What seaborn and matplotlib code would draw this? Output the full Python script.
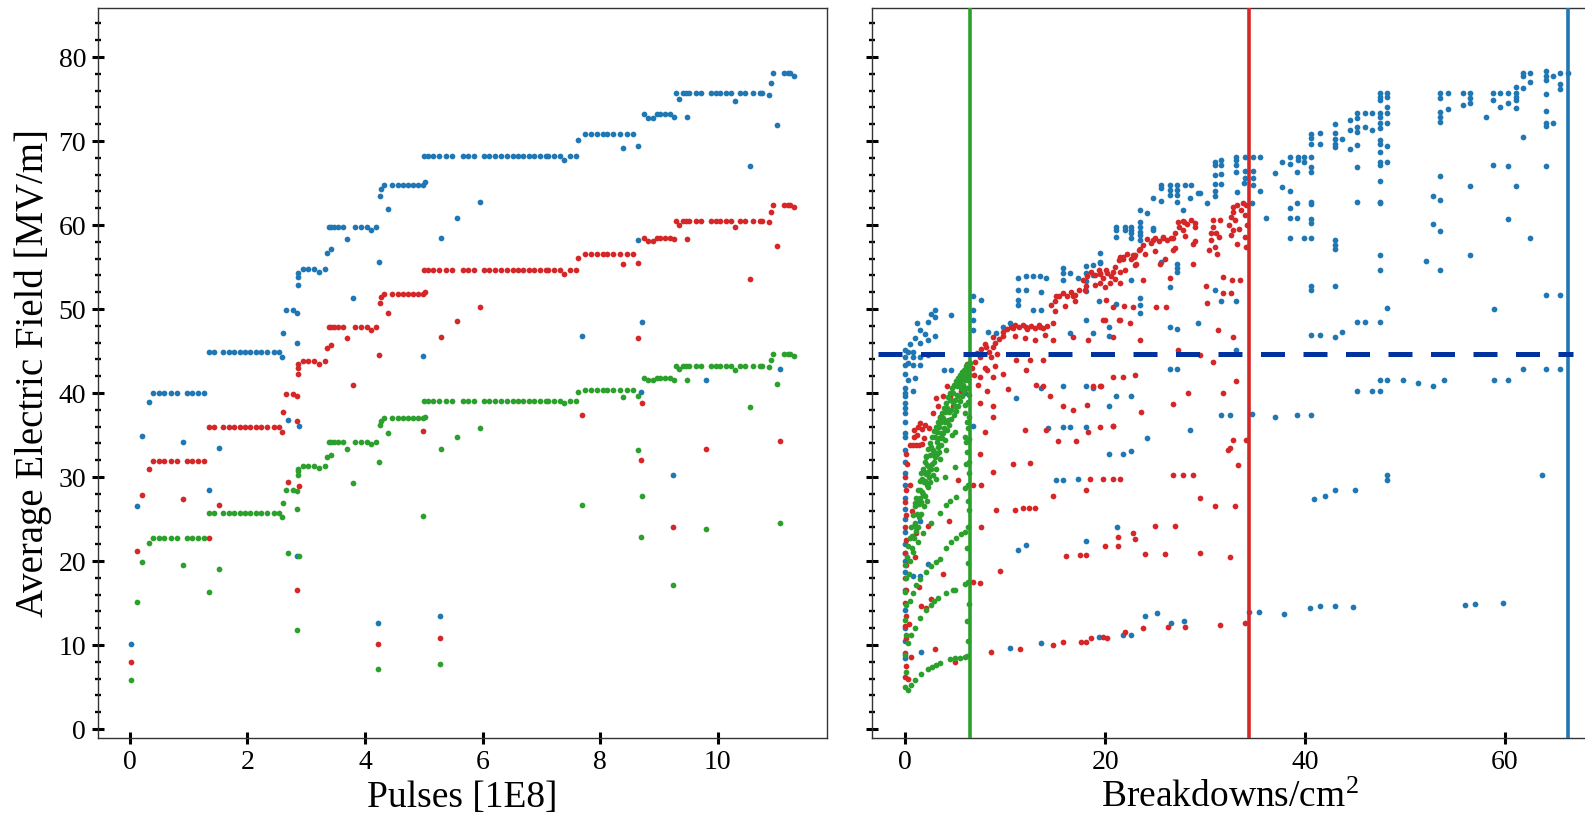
import matplotlib
matplotlib.use("Agg")
import matplotlib.pyplot as plt
import seaborn as sns
from matplotlib.ticker import MultipleLocator

# ---------------- data: left panel (field vs pulses) ----------------
pulses = [0.02, 0.13, 0.21, 0.32,
          0.40, 0.50, 0.58, 0.70, 0.81, 0.91, 0.97, 1.06, 1.16, 1.26,
          1.34, 1.35, 1.44, 1.52, 1.58, 1.68, 1.77, 1.87, 1.96,
          2.05, 2.15, 2.24, 2.34, 2.45, 2.54, 2.59, 2.60, 2.65, 2.70,
          2.78, 2.84, 2.84, 2.84, 2.87, 2.87, 2.87, 2.88, 2.94, 3.04,
          3.13, 3.22, 3.32, 3.36, 3.39, 3.42, 3.43, 3.48, 3.55, 3.63,
          3.69, 3.79, 3.83, 3.93, 4.03, 4.10, 4.19, 4.22, 4.24, 4.25,
          4.27, 4.32, 4.39, 4.46, 4.57, 4.65, 4.74, 4.82, 4.91, 4.99,
          4.99, 5.01, 5.02, 5.07, 5.16, 5.26, 5.27, 5.30, 5.38, 5.48,
          5.57, 5.66, 5.76, 5.86, 5.95, 6.03, 6.11, 6.22, 6.31, 6.42,
          6.51, 6.60, 6.68, 6.79, 6.87, 6.97, 7.08, 7.11, 7.22, 7.31,
          7.39, 7.48, 7.59, 7.63, 7.69, 7.74, 7.84, 7.95, 8.04, 8.12,
          8.22, 8.33, 8.38, 8.45, 8.55, 8.65, 8.65, 8.70, 8.71, 8.75,
          8.81, 8.89, 8.96, 9.01, 9.10, 9.19, 9.24, 9.26, 9.29, 9.34,
          9.41, 9.46, 9.47, 9.51, 9.63, 9.72, 9.80, 9.88, 9.97, 10.04,
          10.14, 10.22, 10.29, 10.37, 10.46, 10.54, 10.60, 10.71, 10.75, 10.87,
          10.90, 10.94, 11.01, 11.05, 11.13, 11.20, 11.22, 11.30]

field_blue = [10.1, 26.5, 34.9, 38.9,
              40.0, 40.0, 40.0, 40.0, 40.0, 34.2, 40.0, 40.0, 40.0, 40.0,
              28.5, 44.9, 44.9, 33.4, 44.9, 44.9, 44.9, 44.9, 44.9,
              44.9, 44.9, 44.9, 44.9, 44.9, 44.9, 44.3, 47.1, 49.9, 36.8,
              49.9, 49.5, 45.9, 20.6, 52.9, 53.8, 54.3, 36.1, 54.8, 54.8,
              54.8, 54.4, 54.8, 56.7, 59.8, 57.1, 59.8, 59.8, 59.8, 59.8,
              58.3, 51.3, 59.8, 59.8, 59.8, 59.4, 59.8, 12.6, 55.6, 63.4,
              64.3, 64.8, 61.9, 64.8, 64.8, 64.8, 64.8, 64.8, 64.8, 64.8,
              44.4, 68.2, 65.1, 68.2, 68.2, 68.2, 13.5, 58.4, 68.2, 68.2,
              60.8, 68.2, 68.2, 68.2, 62.7, 68.2, 68.2, 68.2, 68.2, 68.2,
              68.2, 68.2, 68.2, 68.2, 68.2, 68.2, 68.2, 68.2, 68.2, 68.2,
              67.8, 68.2, 68.2, 70.1, 46.8, 70.8, 70.8, 70.8, 70.8, 70.8,
              70.8, 70.8, 69.2, 70.8, 70.8, 69.4, 58.2, 40.1, 48.5, 73.2,
              72.7, 72.7, 73.2, 73.2, 73.2, 73.2, 30.2, 72.9, 75.7, 75.0,
              75.7, 75.7, 72.9, 75.7, 75.7, 75.7, 41.6, 75.7, 75.7, 75.7,
              75.7, 75.7, 74.8, 75.7, 75.7, 67.0, 75.7, 75.7, 75.7, 75.5,
              76.9, 78.1, 71.9, 42.9, 78.1, 78.1, 78.1, 77.8]

field_red = [8.0, 21.2, 27.9, 31.0,
             31.9, 31.9, 31.9, 31.9, 31.9, 27.4, 31.9, 31.9, 31.9, 31.9,
             22.8, 35.9, 35.9, 26.7, 35.9, 35.9, 35.9, 35.9, 35.9,
             35.9, 35.9, 35.9, 35.9, 35.9, 35.9, 35.4, 37.7, 39.9, 29.4,
             39.9, 39.6, 36.7, 16.5, 42.3, 43.0, 43.4, 28.9, 43.8, 43.8,
             43.8, 43.5, 43.8, 45.4, 47.9, 45.7, 47.9, 47.9, 47.9, 47.9,
             46.6, 41.0, 47.9, 47.9, 47.9, 47.5, 47.9, 10.1, 44.5, 50.7,
             51.4, 51.8, 49.5, 51.8, 51.8, 51.8, 51.8, 51.8, 51.8, 51.8,
             35.5, 54.6, 52.0, 54.6, 54.6, 54.6, 10.8, 46.7, 54.6, 54.6,
             48.6, 54.6, 54.6, 54.6, 50.2, 54.6, 54.6, 54.6, 54.6, 54.6,
             54.6, 54.6, 54.6, 54.6, 54.6, 54.6, 54.6, 54.6, 54.6, 54.6,
             54.2, 54.6, 54.6, 56.1, 37.4, 56.6, 56.6, 56.6, 56.6, 56.6,
             56.6, 56.6, 55.4, 56.6, 56.6, 55.5, 46.5, 32.0, 38.8, 58.5,
             58.1, 58.1, 58.5, 58.5, 58.5, 58.5, 24.1, 58.3, 60.5, 60.0,
             60.5, 60.5, 58.3, 60.5, 60.5, 60.5, 33.3, 60.5, 60.5, 60.5,
             60.5, 60.5, 59.8, 60.5, 60.5, 53.6, 60.5, 60.5, 60.5, 60.4,
             61.5, 62.4, 57.5, 34.3, 62.4, 62.4, 62.4, 62.2]

field_green = [5.8, 15.1, 19.9, 22.1,
               22.7, 22.7, 22.7, 22.7, 22.7, 19.5, 22.7, 22.7, 22.7, 22.7,
               16.3, 25.7, 25.7, 19.1, 25.7, 25.7, 25.7, 25.7, 25.7,
               25.7, 25.7, 25.7, 25.7, 25.7, 25.7, 25.3, 26.9, 28.5, 21.0,
               28.5, 28.3, 26.2, 11.8, 30.2, 30.7, 31.0, 20.6, 31.3, 31.3,
               31.3, 31.1, 31.3, 32.4, 34.2, 32.6, 34.2, 34.2, 34.2, 34.2,
               33.3, 29.3, 34.2, 34.2, 34.2, 33.9, 34.2, 7.2, 31.8, 36.2,
               36.7, 37.0, 35.3, 37.0, 37.0, 37.0, 37.0, 37.0, 37.0, 37.0,
               25.4, 39.0, 37.2, 39.0, 39.0, 39.0, 7.7, 33.3, 39.0, 39.0,
               34.8, 39.0, 39.0, 39.0, 35.8, 39.0, 39.0, 39.0, 39.0, 39.0,
               39.0, 39.0, 39.0, 39.0, 39.0, 39.0, 39.0, 39.0, 39.0, 39.0,
               38.8, 39.0, 39.0, 40.1, 26.7, 40.4, 40.4, 40.4, 40.4, 40.4,
               40.4, 40.4, 39.5, 40.4, 40.4, 39.6, 33.2, 22.9, 27.7, 41.8,
               41.5, 41.5, 41.8, 41.8, 41.8, 41.8, 17.2, 41.6, 43.2, 42.9,
               43.2, 43.2, 41.6, 43.2, 43.2, 43.2, 23.8, 43.2, 43.2, 43.2,
               43.2, 43.2, 42.7, 43.2, 43.2, 38.3, 43.2, 43.2, 43.2, 43.1,
               43.9, 44.6, 41.1, 24.5, 44.6, 44.6, 44.6, 44.4]

# ---------------- data: right panel (field vs breakdowns/cm^2) ----------------
green_bd = [
    (0.0, 5.0), (0.1, 6.8), (0.0, 8.8), (0.1, 11.2), (0.0, 13.0), (0.1, 14.8), (0.0, 16.3), (0.1, 18.0), (0.0, 19.5),
    (0.2, 20.5), (0.3, 21.8), (0.5, 22.8), (0.6, 24.0), (0.8, 25.5), (1.0, 26.5), (1.1, 27.5), (1.3, 28.5),
    (1.5, 29.5), (1.6, 30.5), (1.8, 31.0), (2.0, 31.8), (2.1, 32.5), (2.3, 33.3), (2.5, 34.0), (2.7, 34.8),
    (2.9, 35.5), (3.1, 36.0), (3.3, 36.5), (3.5, 37.0), (3.7, 37.6), (3.9, 38.2), (4.1, 38.8), (4.3, 39.5),
    (4.5, 40.0), (4.7, 40.6), (4.9, 41.0), (5.1, 41.4), (5.3, 41.8), (5.5, 42.2), (5.7, 42.5), (5.9, 42.8),
    (6.1, 43.2), (6.3, 43.4), (6.5, 43.6),
    (1.0, 24.5), (1.4, 26.8), (1.7, 28.2), (2.0, 29.5), (2.4, 31.2), (2.8, 32.8), (3.2, 34.2), (3.6, 35.3),
    (4.0, 36.5), (4.4, 37.8), (4.8, 38.9), (5.2, 39.8), (5.6, 40.6), (6.0, 41.5), (6.4, 42.2),
    (0.4, 18.5), (0.5, 20.0), (0.7, 21.5), (0.9, 22.8), (1.1, 23.6), (1.2, 25.6), (1.4, 25.2), (1.6, 27.0),
    (1.8, 28.0), (1.9, 29.4), (2.1, 30.4), (2.2, 29.0), (2.4, 30.0), (2.5, 32.6), (2.6, 33.6), (2.7, 31.5),
    (2.9, 33.0), (3.0, 34.8), (3.2, 35.4), (3.3, 33.6), (3.4, 36.0), (3.6, 36.6), (3.7, 34.6), (3.8, 37.0),
    (3.9, 35.8), (4.0, 37.8), (4.2, 38.2), (4.3, 36.8), (4.5, 39.2), (4.6, 38.0), (4.8, 40.0), (5.0, 39.2),
    (5.2, 40.8), (5.3, 39.6), (5.4, 41.2), (5.6, 41.6), (5.8, 41.0), (5.8, 42.2), (6.0, 42.0), (6.2, 42.6),
    (6.3, 41.6), (6.4, 43.0), (6.2, 40.6), (6.4, 39.8),
    (1.2, 27.0), (1.5, 28.4), (1.7, 29.8), (1.9, 30.6), (2.0, 27.8), (2.2, 31.4), (2.3, 30.6), (2.5, 29.4),
    (2.6, 31.0), (2.8, 30.2), (2.9, 31.8), (3.0, 32.4), (3.1, 31.0), (3.2, 32.8), (3.4, 34.6), (3.5, 32.2),
    (3.6, 33.8), (3.8, 35.2), (4.0, 34.4), (4.2, 35.6), (4.4, 36.2), (4.6, 36.9), (4.7, 35.0), (4.9, 37.4),
    (5.1, 37.9), (5.3, 38.4), (5.5, 39.0), (5.7, 39.6), (5.9, 40.2), (0.7, 23.0), (0.9, 24.2), (1.3, 24.0),
    (1.6, 25.6), (1.9, 26.6), (2.2, 27.2),
    (6.3, 10.5), (6.2, 12.8), (6.4, 14.9), (6.3, 19.8), (6.2, 21.6), (6.4, 26.1), (6.3, 27.2), (6.4, 30.5),
    (6.2, 33.0), (6.3, 35.8), (6.4, 37.2), (6.3, 38.9),
    (0.3, 4.6), (0.6, 5.2), (1.0, 5.8), (1.6, 6.6), (2.3, 7.2), (2.7, 7.4), (3.1, 7.6), (3.5, 7.8), (4.5, 8.3),
    (5.0, 8.5), (5.5, 8.5), (6.0, 8.6), (6.2, 8.7),
    (0.3, 10.2), (0.6, 11.2), (1.0, 12.0), (1.5, 13.2), (2.1, 14.2), (2.6, 14.8), (2.9, 15.2), (3.3, 15.6),
    (4.1, 16.2), (4.8, 16.5), (5.0, 16.6), (6.0, 17.3), (6.3, 17.5),
    (0.5, 15.2), (0.8, 16.2), (1.1, 17.1), (1.5, 17.9), (2.1, 18.7), (2.6, 19.4), (3.1, 19.9), (3.5, 20.3),
    (4.1, 21.5), (4.6, 22.3), (5.1, 22.8), (5.6, 23.2), (6.0, 23.5), (6.3, 24.1),
    (0.8, 21.1), (1.3, 22.3), (1.8, 23.3), (2.6, 24.5), (3.5, 25.7), (4.1, 26.7), (4.5, 27.2), (5.1, 27.6),
    (6.0, 28.7), (6.3, 29.0),
    (1.0, 26.9), (1.5, 27.5), (2.3, 28.8), (3.1, 29.8), (4.0, 30.0), (5.0, 31.2), (6.1, 31.6), (6.4, 31.8),
    (2.1, 32.4), (2.8, 33.2), (3.4, 33.0), (4.1, 33.2), (5.0, 35.4), (6.0, 34.8), (6.1, 34.2), (6.4, 34.5),
    (5.0, 38.4), (6.0, 38.6), (6.0, 37.6), (6.2, 36.5),
]

red_bd = [
    (0.0, 6.2), (0.1, 7.5), (0.0, 9.0), (0.1, 10.8), (0.0, 12.3), (0.1, 13.5), (0.0, 15.0), (0.1, 16.5),
    (0.0, 18.0), (0.1, 19.5), (0.0, 21.0), (0.1, 22.5), (0.0, 24.0), (0.1, 25.5), (0.0, 27.0), (0.1, 28.5),
    (0.0, 30.0), (0.2, 31.5), (0.1, 32.8), (0.3, 5.9),
    (0.5, 33.8), (0.8, 33.8), (1.1, 33.8), (1.4, 33.8), (0.9, 35.6), (1.3, 36.0), (1.7, 35.7), (2.0, 36.2),
    (3.1, 39.4), (3.5, 37.2), (4.8, 38.4), (1.6, 14.6), (2.1, 14.4), (2.3, 24.2), (1.1, 23.3), (5.0, 8.0),
    (0.9, 34.8), (1.2, 35.0), (1.5, 36.4), (1.9, 34.6), (2.4, 35.8), (1.7, 33.9), (2.8, 37.6), (3.3, 38.5),
    (3.8, 39.7), (4.2, 40.8), (4.5, 39.5), (5.6, 40.2), (5.8, 42.0), (0.5, 29.0), (0.7, 26.0), (1.0, 20.5),
    (1.4, 16.9), (2.6, 15.5), (0.4, 12.5), (0.6, 8.6), (3.0, 9.5), (3.8, 18.4), (4.4, 24.8), (5.3, 29.6),
    (6.2, 43.5), (6.7, 43.0), (7.0, 43.7), (7.5, 44.3), (8.0, 43.0), (8.2, 42.7), (7.5, 41.9),
    (7.2, 44.8), (7.6, 45.2), (8.0, 45.8), (8.4, 44.9), (8.8, 45.5), (9.2, 44.6), (6.9, 42.2), (7.3, 41.0),
    (8.2, 40.2), (9.0, 43.2),
    (8.1, 45.5), (8.6, 44.3), (8.8, 46.7), (9.8, 47.3), (10.8, 47.7), (12.1, 47.9), (13.5, 47.9), (14.8, 48.3),
    (15.1, 51.5), (16.8, 51.5), (18.1, 52.7), (19.5, 54.3), (20.8, 54.4), (21.8, 56.2), (22.8, 56.4),
    (9.0, 46.0), (9.4, 46.4), (9.8, 46.8), (10.2, 47.6), (10.6, 47.9), (11.0, 48.1), (11.4, 47.9), (11.8, 48.1),
    (12.2, 47.6), (12.6, 48.0), (13.0, 47.8), (13.4, 48.1), (13.8, 47.7), (14.2, 48.0), (14.6, 50.5),
    (15.0, 50.9), (15.4, 51.6), (15.8, 51.9), (16.2, 51.5), (16.6, 52.0), (17.0, 51.7), (17.4, 52.3),
    (17.8, 53.5), (18.2, 53.9), (18.6, 54.4), (19.0, 54.0), (19.4, 54.6), (19.8, 53.7), (20.2, 54.3),
    (20.6, 53.9), (21.0, 55.0), (21.4, 55.8), (21.8, 56.0), (22.2, 56.6), (22.6, 55.9), (23.0, 56.4),
    (23.4, 57.0), (23.8, 57.6), (24.2, 58.3), (24.6, 57.9), (25.0, 58.5), (25.4, 58.1), (25.8, 58.6),
    (26.2, 58.2), (26.6, 58.5), (27.0, 59.0), (27.4, 59.8), (27.8, 60.5), (28.2, 60.1), (28.6, 60.6),
    (29.0, 59.8), (30.6, 58.2), (30.6, 59.0), (30.8, 59.8), (31.0, 57.4), (31.2, 56.6), (31.4, 58.6),
    (30.4, 57.0), (32.4, 60.0), (32.6, 61.0), (32.8, 61.6), (33.0, 60.6), (33.4, 59.5), (33.6, 61.8),
    (33.8, 62.6), (34.0, 61.2), (34.2, 60.0), (32.6, 58.8), (34.0, 58.6), (33.2, 57.8),
    (15.0, 49.8), (16.0, 50.4), (17.0, 50.9), (18.0, 52.3), (19.0, 52.9), (20.0, 52.6), (21.0, 53.6),
    (22.0, 54.6), (23.0, 55.3), (24.0, 56.5), (25.0, 56.9), (26.0, 56.0), (27.0, 57.3), (28.0, 58.7),
    (29.0, 58.1), (11.0, 46.8), (12.0, 46.5), (13.0, 46.3), (14.0, 46.9),
    (8.8, 41.9), (9.8, 42.3), (11.1, 43.9), (12.5, 43.9), (13.8, 43.9), (14.8, 46.3), (16.8, 46.7), (18.3, 46.3),
    (19.8, 48.7), (21.4, 48.7),
    (10.3, 40.5), (12.1, 42.7), (13.1, 41.0), (13.8, 40.8), (14.5, 39.6), (15.8, 38.4), (16.8, 38.0),
    (18.2, 38.6), (18.8, 40.8), (19.5, 40.8), (20.8, 41.9),
    (7.5, 38.8), (8.8, 38.4), (8.8, 37.2),
    (8.0, 35.4), (12.0, 35.6), (14.1, 35.6), (15.3, 34.3), (17.1, 34.3), (18.3, 35.4), (19.5, 35.9), (20.8, 36.1),
    (7.5, 32.8), (8.8, 30.6), (10.8, 31.6), (12.5, 31.7), (14.8, 27.7), (18.5, 29.8), (19.8, 29.8), (20.8, 29.8),
    (21.5, 29.8), (18.1, 28.5), (6.8, 29.0), (7.6, 29.0),
    (9.1, 26.1), (11.0, 26.1), (11.8, 26.3), (12.4, 26.3), (13.0, 26.3),
    (21.3, 22.9), (22.8, 23.3), (23.0, 22.6),
    (16.1, 20.6), (17.5, 20.7), (18.1, 20.7), (20.0, 21.8), (21.3, 21.8),
    (9.5, 18.8), (6.8, 17.5), (7.5, 17.4), (7.6, 24.0),
    (8.6, 9.2), (11.5, 9.5), (14.8, 10.0), (15.8, 10.3), (17.6, 10.3), (18.1, 10.3), (18.6, 10.8), (19.8, 10.9),
    (20.2, 10.8), (22.0, 11.5), (23.8, 12.0), (26.3, 12.1), (28.0, 12.2), (31.5, 12.4), (34.0, 12.6),
    (19.5, 54.2), (20.1, 54.6), (21.5, 54.4), (21.5, 56.2), (22.9, 56.2), (23.5, 57.2), (24.8, 58.2),
    (25.8, 58.4), (26.8, 58.4), (27.3, 60.4), (27.9, 60.4), (29.0, 60.3), (27.8, 59.4), (30.8, 60.6),
    (31.5, 60.6), (31.1, 59.0), (32.8, 62.2), (33.2, 62.4), (34.1, 62.4), (34.1, 57.4), (32.8, 59.4),
    (19.5, 53.1), (20.5, 53.1), (21.5, 53.1), (20.1, 51.1), (23.8, 53.5), (23.1, 55.4), (25.5, 55.4),
    (26.8, 57.0), (28.8, 57.8), (30.1, 52.7), (31.8, 53.8), (32.7, 53.5), (33.5, 53.5), (31.8, 51.9),
    (32.6, 51.9), (30.2, 50.7), (20.8, 50.3), (21.9, 50.4), (22.8, 50.3), (25.1, 50.3), (26.1, 50.3),
    (26.5, 53.7), (28.8, 55.4), (20.0, 48.7), (21.5, 48.7), (22.5, 48.3), (20.8, 46.7), (23.5, 46.3),
    (27.3, 45.1), (29.5, 44.5), (30.8, 43.7), (31.3, 47.5), (32.8, 46.7), (21.8, 41.9), (23.0, 42.1),
    (19.6, 40.8), (26.8, 38.7), (28.3, 40.0), (31.8, 40.0), (33.1, 41.4), (23.6, 37.8), (20.8, 36.1),
    (32.8, 34.4), (34.1, 34.4), (32.5, 33.4),
    (26.8, 30.2), (27.8, 30.2), (28.8, 30.2), (32.3, 33.2), (33.3, 31.4), (29.5, 27.5), (31.0, 26.6),
    (33.0, 26.6), (25.0, 24.2), (27.0, 24.2), (24.0, 20.8), (26.0, 20.8), (29.5, 21.0), (32.5, 20.5),
]

blue_bd = [
    (0.0, 45.1), (0.0, 44.3), (0.0, 43.3), (0.0, 42.3), (0.0, 40.6), (0.0, 40.0), (0.0, 39.6), (0.0, 38.8),
    (0.0, 38.2), (0.0, 37.6), (0.0, 36.6), (0.0, 35.2), (0.0, 34.8), (0.0, 33.2), (0.0, 16.5), (0.0, 30.5),
    (0.0, 27.5), (0.0, 25.0), (0.0, 22.0), (0.0, 20.0), (0.0, 12.0), (0.0, 8.5),
    (0.0, 31.8), (0.0, 29.0), (0.0, 26.2), (0.0, 23.5), (0.0, 21.0), (0.0, 18.7), (0.0, 14.2), (0.0, 10.5),
    (0.3, 44.9), (0.3, 43.6), (0.5, 45.8), (1.0, 46.5), (1.2, 48.3), (2.0, 47.0), (2.6, 49.4), (0.3, 41.5),
    (1.0, 41.8),
    (0.8, 44.9), (0.8, 44.3), (0.8, 43.3), (1.5, 47.5), (1.5, 44.3), (1.5, 43.3), (1.5, 45.9), (2.3, 48.4),
    (2.3, 46.3), (2.3, 44.5), (3.0, 49.9), (3.0, 49.1), (3.0, 46.8), (4.6, 49.3), (3.9, 42.7), (4.6, 42.7),
    (0.8, 40.3),
    (6.8, 51.5), (7.6, 51.1), (6.8, 49.9), (6.8, 48.7), (6.8, 47.5), (8.3, 47.3), (9.1, 47.1), (9.8, 47.9),
    (10.5, 48.3), (11.3, 53.7), (11.3, 52.3), (11.3, 51.1), (11.3, 50.5), (12.1, 53.9), (12.1, 52.3),
    (12.8, 53.9), (13.5, 53.9), (13.6, 52.0), (14.1, 53.7), (12.8, 49.9), (13.6, 49.9), (15.8, 54.9),
    (15.8, 54.3), (15.8, 53.5), (16.5, 54.3), (17.3, 53.7), (18.1, 55.1), (18.1, 54.3), (18.1, 53.3),
    (18.1, 52.1), (18.8, 55.3), (18.8, 54.0), (19.5, 55.6), (19.4, 50.9), (16.5, 47.1), (18.1, 48.7),
    (18.8, 47.1),
    (11.1, 39.4), (13.6, 40.6), (15.8, 40.8), (18.1, 40.8), (18.8, 40.6), (14.3, 35.8), (15.8, 35.9),
    (16.5, 35.9), (18.1, 35.9), (20.4, 32.8), (21.8, 32.8), (22.6, 33.1), (15.1, 29.6), (15.8, 29.6),
    (17.3, 29.8), (11.3, 21.3), (12.1, 21.9), (18.1, 22.4), (21.2, 24.0), (1.6, 9.2), (10.5, 9.6),
    (13.6, 10.2), (19.4, 10.9), (21.8, 11.2), (22.6, 11.2), (0.8, 18.2), (1.5, 18.2), (2.3, 19.6),
    (1.5, 24.8), (6.0, 40.0), (6.0, 40.6), (6.8, 36.1),
    (19.5, 56.7), (19.5, 55.5), (21.1, 58.6), (21.1, 59.4), (21.1, 59.8), (22.0, 59.8), (22.0, 59.4),
    (22.6, 59.8), (22.6, 59.4), (22.6, 59.0), (22.6, 58.4), (23.5, 60.4), (23.5, 59.8), (23.5, 59.2),
    (23.5, 58.8), (23.5, 58.2), (24.8, 59.4),
    (25.6, 64.8), (25.6, 64.4), (24.8, 63.2), (25.6, 62.9), (26.5, 64.8), (26.5, 64.2), (26.5, 63.6),
    (27.2, 64.8), (27.2, 64.2), (27.2, 63.6), (27.2, 62.8), (28.0, 64.8), (28.6, 64.8), (29.5, 63.8),
    (30.2, 62.6),
    (31.0, 67.5), (31.0, 67.1), (31.0, 65.9), (31.0, 64.9), (31.0, 64.0), (31.0, 63.4), (31.6, 67.7),
    (31.6, 67.1), (31.6, 66.1), (31.6, 64.9), (33.1, 68.1), (33.1, 67.7), (33.1, 67.1), (33.1, 66.3),
    (34.0, 68.1), (34.8, 68.1), (35.5, 68.1), (34.0, 66.4), (34.0, 65.6), (34.8, 66.4), (34.8, 65.6),
    (34.8, 64.8),
    (37.7, 67.5), (38.5, 68.1), (38.5, 67.3), (39.3, 68.1), (39.9, 68.1), (40.6, 68.1), (39.3, 67.7),
    (39.9, 67.5), (40.6, 70.8), (40.6, 70.4), (40.6, 69.6), (40.6, 66.9), (40.6, 66.3), (41.5, 70.9),
    (41.5, 69.6),
    (43.0, 72.0), (43.0, 71.0), (43.0, 70.2), (43.0, 69.6), (43.0, 69.3), (43.7, 70.2), (44.5, 72.5),
    (44.5, 71.3), (44.5, 69.0), (45.2, 73.3), (45.2, 72.7), (45.2, 71.7), (45.2, 71.1), (45.2, 69.5),
    (46.0, 73.3), (46.0, 71.7), (46.7, 73.3), (46.7, 71.3),
    (47.5, 75.7), (47.5, 75.3), (47.5, 74.9), (47.5, 73.3), (47.5, 72.9), (47.5, 72.1), (47.5, 71.5),
    (47.5, 70.1), (47.5, 69.7), (47.5, 68.7), (47.5, 67.5), (47.5, 67.1), (47.5, 65.3), (47.5, 62.8),
    (47.5, 62.6), (48.2, 75.7), (48.2, 75.3), (48.2, 74.1), (48.2, 73.3), (48.2, 72.2), (48.2, 69.4),
    (48.2, 67.5), (45.2, 66.9), (45.2, 62.8),
    (53.5, 75.7), (53.5, 75.1), (54.3, 75.7), (53.5, 73.5), (53.5, 72.9), (53.5, 72.3), (54.3, 73.8),
    (55.8, 75.7), (56.5, 75.7), (56.5, 75.1), (56.5, 74.5), (55.8, 74.3),
    (58.8, 75.7), (59.5, 75.7), (60.3, 75.7), (61.1, 75.7), (58.8, 74.9), (59.5, 74.1), (60.3, 74.5),
    (61.1, 75.3), (61.1, 74.9), (61.1, 73.9), (58.1, 72.9), (61.1, 76.4), (61.8, 76.3), (61.8, 78.1),
    (61.8, 77.8), (62.5, 78.1), (62.5, 77.0),
    (64.1, 78.3), (64.1, 77.8), (64.1, 77.3), (64.8, 77.8), (65.5, 78.1), (66.3, 78.1), (65.5, 76.8),
    (65.5, 76.2), (64.1, 75.6), (64.1, 73.6), (64.1, 72.2), (64.1, 71.8), (64.8, 72.2), (61.8, 70.5),
    (58.8, 67.2), (60.3, 67.0), (64.1, 67.0), (53.5, 65.8), (56.5, 64.7), (61.1, 64.7), (52.8, 63.4),
    (53.5, 63.0), (60.3, 60.7), (52.8, 60.1), (53.5, 59.3), (62.5, 58.4), (52.1, 55.7), (53.5, 54.7),
    (56.5, 56.4), (64.1, 51.7), (65.5, 51.7), (58.9, 50.0), (61.8, 42.9), (64.1, 42.9), (65.5, 42.9),
    (58.9, 41.6), (60.3, 41.6), (53.9, 41.6), (52.8, 40.8), (51.3, 41.2), (49.8, 41.6), (48.2, 41.5),
    (47.5, 41.6), (46.7, 40.2), (47.5, 40.2), (45.2, 40.2), (48.2, 50.1), (47.5, 56.4), (47.5, 54.6),
    (45.2, 48.4), (46.0, 48.4), (47.5, 48.4), (43.7, 47.3), (43.0, 46.7), (41.5, 46.9), (40.6, 46.9),
    (43.0, 52.8), (40.6, 52.8), (40.6, 52.3), (43.0, 58.2), (43.0, 57.6), (43.0, 57.2), (40.6, 62.8),
    (40.6, 62.5), (40.6, 60.7), (40.6, 60.3), (38.5, 58.4), (39.9, 58.4), (40.6, 58.4), (38.5, 60.8),
    (39.2, 60.8), (38.5, 62.0), (39.2, 62.6), (36.1, 60.8), (37.7, 64.5), (38.5, 64.0), (35.5, 64.0),
    (37.0, 66.2), (39.2, 66.3), (34.7, 62.6), (33.2, 63.9), (33.9, 65.0), (29.3, 63.8), (28.5, 63.2),
    (27.8, 61.8), (24.8, 59.6), (24.2, 61.4), (23.5, 61.8), (27.2, 55.4), (27.2, 54.9), (27.2, 54.4),
    (26.5, 52.6), (25.6, 55.6), (22.6, 53.5), (23.5, 51.3), (23.5, 50.5), (23.5, 49.5), (21.1, 50.6),
    (20.4, 47.9), (20.4, 46.8), (21.1, 39.6), (20.4, 38.4), (22.6, 39.7), (24.2, 34.7), (26.5, 47.9),
    (27.2, 47.6), (28.5, 35.6), (29.3, 48.3), (31.0, 52.3), (31.6, 50.9), (33.1, 50.9), (33.1, 45.1),
    (31.6, 37.4), (32.5, 37.4), (34.7, 37.5), (37.0, 37.2), (39.2, 37.4), (40.6, 37.4), (26.5, 42.9),
    (27.2, 42.9),
    (34.4, 13.9), (35.4, 13.9), (37.9, 13.7), (40.5, 14.4), (41.5, 14.6), (43.0, 14.6), (44.8, 14.5),
    (56.0, 14.8), (57.0, 14.9), (59.8, 15.0), (26.6, 12.6), (27.9, 12.8), (24.0, 13.5), (25.2, 13.8),
    (40.9, 27.4), (42.0, 27.8), (43.0, 28.5), (45.0, 28.5), (48.2, 29.6), (48.2, 30.2), (63.7, 30.2),
]

# reference lines
limit_green = 6.48
limit_red = 34.4
limit_blue = 66.3
target_field = 44.6
target_span = [-2.75, 66.8]

xticks_left = [0, 2, 4, 6, 8, 10]
xticks_right = [0, 20, 40, 60]
yticks = [0, 10, 20, 30, 40, 50, 60, 70, 80]

C_BLUE = "#1f77b4"
C_RED = "#d62728"
C_GREEN = "#2ca02c"
C_NAVY = "#0033a0"

# ---------------- style ----------------
sns.set_theme(style="ticks")
plt.rcParams["font.family"] = ["Liberation Serif", "DejaVu Serif"]
plt.rcParams["mathtext.fontset"] = "custom"
plt.rcParams["mathtext.rm"] = "Liberation Serif"
plt.rcParams["mathtext.it"] = "Liberation Serif:italic"
for key in ("text.color", "axes.labelcolor", "xtick.color", "ytick.color"):
    plt.rcParams[key] = "black"

fig = plt.figure(figsize=(15.85, 8.18), dpi=100)
ax1 = fig.add_axes([0.0618, 0.0978, 0.4597, 0.892])
ax2 = fig.add_axes([0.5503, 0.0978, 0.4515, 0.892])

S = 17
kw = dict(s=S, linewidth=0, legend=False)
sns.scatterplot(x=pulses, y=field_blue, color=C_BLUE, ax=ax1, zorder=2, **kw)
sns.scatterplot(x=pulses, y=field_red, color=C_RED, ax=ax1, zorder=3, **kw)
sns.scatterplot(x=pulses, y=field_green, color=C_GREEN, ax=ax1, zorder=4, **kw)

for data, col, z in [(blue_bd, C_BLUE, 2), (red_bd, C_RED, 3), (green_bd, C_GREEN, 4)]:
    xs = [p[0] for p in data]
    ys = [p[1] for p in data]
    sns.scatterplot(x=xs, y=ys, color=col, ax=ax2, zorder=z, **kw)

ax2.axvline(limit_green, color=C_GREEN, lw=2.6, zorder=6)
ax2.axvline(limit_red, color=C_RED, lw=2.6, zorder=6)
ax2.axvline(limit_blue, color=C_BLUE, lw=2.6, zorder=6)
ax2.plot(target_span, [target_field, target_field], color=C_NAVY, lw=3.6,
         dashes=(4.8, 3.7), zorder=7)

for ax in (ax1, ax2):
    ax.set_ylim(-1.07, 85.8)
    ax.set_yticks(yticks)
    ax.yaxis.set_minor_locator(MultipleLocator(2))
    ax.tick_params(axis="both", which="major", direction="inout", length=9,
                   width=2.2, color="black", labelcolor="black", labelsize=20, pad=4)
    ax.tick_params(axis="y", which="minor", direction="inout", length=3.8,
                   width=1.7, color="black")
    for sp in ax.spines.values():
        sp.set_color("#333333")
        sp.set_linewidth(1.0)
    ax.grid(False)

ax1.set_xlim(-0.54, 11.85)
ax1.set_xticks(xticks_left)
ax2.set_xlim(-3.31, 68.3)
ax2.set_xticks(xticks_right)
ax2.tick_params(axis="y", labelleft=False)
ax2.spines["right"].set_visible(False)

ax1.set_xlabel("Pulses [1E8]", fontsize=27, labelpad=4, color="black")
ax1.set_ylabel("Average Electric Field [MV/m]", fontsize=28, labelpad=5, color="black")
ax2.set_xlabel("Breakdowns/cm$^2$", fontsize=27, labelpad=4, color="black")

fig.savefig("out.png", dpi=100)
